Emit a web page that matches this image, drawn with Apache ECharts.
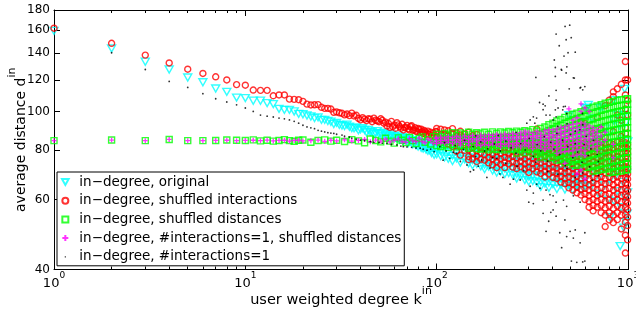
<!DOCTYPE html>
<html>
<head>
<meta charset="utf-8">
<script src="https://cdn.jsdelivr.net/npm/echarts@6/dist/echarts.min.js"></script>
<style>
  html, body { margin: 0; padding: 0; background: #fff; }
  #chart { width: 636px; height: 313px; }
</style>
</head>
<body>
<div id="chart"></div>
<script>
// axis ticks
const kMajor = [1, 10, 100, 1000];
const kMinor = [2, 3, 4, 5, 6, 7, 8, 9, 20, 30, 40, 50, 60, 70, 80, 90, 200, 300, 400, 500, 600, 700, 800, 900];
const dTicks = [40, 60, 80, 100, 120, 140, 160, 180];

const names = [
  'in−degree, original',
  'in−degree, shuffled interactions',
  'in−degree, shuffled distances',
  'in−degree, #interactions=1, shuffled distances',
  'in−degree, #interactions=1'
];

// low k: one [k, d] per degree
const originalLow = [
  [1,159.5],[2,144],[3,133.4],[4,127.5],[5,121.7],[6,118.4],[7,114.2],[8,112],[9,108.3],[10,108],[11,106.4],[12,106.4],
  [13,104.9],[14,104.3],[15,101.5],[16,100.9],[17,100.9],[18,100],[19,98.6],[20,98.4],[21,97.7],[22,97.1],[23,96.2],
  [24,96.6],[25,95.2],[26,95.2],[27,94.6],[28,94.2],[29,93],[30,93.6],[31,92.5],[32,92.2],[33,91.9],[34,92.6],[35,91.5],
  [36,90.8],[37,90.7],[38,91.2],[39,89.6],[40,90.1],[41,90.8],[42,89.8],[43,88.6],[44,89.8],[45,88.9],[46,88.8],[47,87.6],
  [48,88.1],[49,89.2],[50,87.8],[51,88.1],[52,86.6],[53,88.4],[54,87.2],[55,87.6],[56,86],[57,86.7],[58,87.4],[59,85.8],
  [60,86.8],[61,86.1],[62,85.4],[63,86.9],[64,84.8],[65,85.6],[66,86.2],[67,84.2],[68,85.8],[69,85.1],[70,84.6],[71,83.2],
  [72,85.4],[73,83.9],[74,84.6],[75,82.6],[76,84],[77,83.1],[78,82.2],[79,84.4],[80,81.6],[81,83.4],[82,82.3],[83,81],
  [84,83.6],[85,80.6],[86,82.4],[87,81.2],[88,80.2],[89,82.8],[90,79.6],[91,81.4],[92,79.9],[93,82.2],[94,78.6],[96,80.8],
  [97,77.8],[99,81.8]
];
const interactionsLow = [
  [1,162],[2,148.4],[3,138.6],[4,132.4],[5,127.7],[6,124.6],[7,122.2],[8,120],[9,116.8],[10,116.4],[11,113.2],[12,113],
  [13,113],[14,109.5],[15,110],[16,110],[17,107.4],[18,107.2],[19,107],[20,106],[21,104.3],[22,103.8],[23,103.9],[24,104],
  [25,102.4],[26,101.8],[27,101.8],[28,101.4],[29,99.5],[30,99.7],[31,99.2],[32,98.9],[33,98],[34,98.5],[35,97.6],[36,99],
  [37,97.4],[38,97.8],[39,96.1],[40,95.2],[41,96.4],[42,95.6],[43,94.8],[44,95.8],[45,95.6],[46,94.2],[47,96.2],[48,95],
  [49,94.6],[50,94.2],[51,95.8],[52,95],[53,93.4],[54,94],[55,91.9],[56,93.2],[57,91.2],[58,94.4],[59,91.5],[60,92.4],
  [61,90.7],[62,93.6],[63,92.5],[64,91.6],[65,90.7],[66,92.8],[67,89.8],[68,91],[69,91.2],[70,92.2],[71,90.4],[72,89.8],
  [73,91.6],[74,92],[75,89.6],[76,90],[77,91],[78,89.2],[79,88.9],[80,90.6],[81,90.1],[82,88.6],[83,90.2],[84,88.9],
  [85,88],[86,89.6],[87,88.9],[88,87.4],[89,88.1],[90,89.2],[91,87.6],[93,88.6],[94,86.8],[96,88.2],[97,87],[99,89]
];
const distancesLow = [
  [1,84.4],[2,84.7],[3,84.4],[4,85],[5,84.4],[6,84.4],[7,84.5],[8,84.7],[9,84.6],[10,84.5],[11,84.8],[12,84.3],[13,84.6],
  [14,84.2],[15,84.5],[16,84.9],[17,84.4],[18,84.1],[19,84.6],[20,84.7],[22,83.6],[24,84.5],[26,84.8],[28,84.2],[30,84.6],
  [33,84],[36,84.9],[39,84.3],[42,83.4],[45,85.2],[48,84.5],[51,83.8],[54,85.6],[57,84.2],[60,83.2],[63,85.8],[66,84.6],
  [69,83.5],[72,86],[75,84.4],[78,83],[81,85.5],[84,86.3],[87,83.6],[90,84.9],[93,82.8],[96,86.4],[99,84.2]
];
const singleShuffledLow = [
  [1,84.4],[2,84.7],[3,84.4],[4,85],[5,84.4],[6,84.4],[7,84.5],[8,84.6],[9,84.4],[10,84.5],[11,84.6],[12,84.4],[13,84.7],
  [14,84.3],[15,84.5],[16,84.6],[17,84.2],[18,84.5],[19,84.6],[20,84.3],[22,84.4],[24,84.7],[26,84.1],[28,84.6],[30,84.3],
  [33,84.8],[36,84.2],[39,84.5],[42,85],[45,83.9],[48,84.7],[51,84.2],[54,85.1],[57,83.8],[60,84.6],[63,85.3],[66,84],
  [69,83.6],[72,85.4],[75,84.3],[78,83.9],[81,85.6],[84,84.1],[87,83.4],[90,85.2],[93,84.5],[96,83.2],[99,85.7]
];

// high k: each row is [k, d, d, ...], the values seen in that column of the cloud
const originalHigh = [
  [100,85.6,83,80.4,78],[105,86,82.2,79.6,77.2],[110,84.8,82.6,80,76.6],[115,85.4,81.8,79.2,76],
  [121,84.6,82.4,79.8,77.4,75],[127,85.2,81.6,78.8,76.2],[133,84.4,82,79.4,77,74.4],[140,85,81.4,78.6,75.8],
  [147,84.2,81.8,79.2,76.6,74],[154,84.8,81.2,78.4,75.4,73.2],[162,84,81.6,79,76.2,73.8],[170,84.6,80.8,78.2,75.6,72.8],
  [178,83.8,81.4,78.6,76,73.4,71.6],[187,84.4,80.6,78,75.2,72.6],[196,83.6,81,78.4,75.8,73,71],
  [206,84.2,80.4,77.6,74.8,72.2,70.2],[216,83.4,80.8,78,75.4,72.8,70.6],[227,84,80.2,77.4,74.6,71.8,69.6],
  [238,83.2,80.6,77.8,75,72.4,70],[250,83.8,80,77.2,74.4,71.6,69.2],[262,83,80.4,77.6,74.8,72,69.6,67.8],
  [275,83.6,79.8,77,74.2,71.4,68.8],[289,82.8,80.2,77.4,74.6,71.8,69.2,67.2],[303,83.4,79.6,76.8,74,71.2,68.6,66.6],
  [318,82.6,80,77.2,74.4,71.6,69,66.8],[334,83.2,79.4,76.6,73.8,71,68.4,66.2],[350,82.4,79.8,77,74.2,71.4,68.8,66.4,64.6],
  [368,83,79.2,76.4,73.6,70.8,68.2,65.8],[386,82.2,79.6,76.8,74,71.2,68.6,66.2,64.2],[405,82.8,79,76.2,73.4,70.6,68,65.6],
  [425,82,79.4,76.6,73.8,71,68.4,66,63.8],[446,82.6,78.8,76,73.2,70.4,67.8,65.4],[468,81.8,79.2,76.4,73.6,70.8,68.2,65.8,63.6],
  [491,82.4,78.6,75.8,73,70.2,67.6,65.2,97.9],[515,81.6,79,76.2,73.4,70.6,68,65.6,63.4],[541,82.2,78.4,75.6,72.8,70,67.4,65,87],
  [568,81.4,78.8,76,73.2,70.4,67.8,65.4,63.4,89.8],[596,82,78.2,75.4,72.6,69.8,67.2,64.8,94.2,102],
  [610,102],[620,103.8],[625,78],[640,64.6],[650,96],[655,72.2],[670,67.5],[686,75],[700,85],[702,62],[715,102],
  [718,69.5],[735,77.6],[740,102.8],[752,65.2],[760,90.5],[770,71.8],[788,60],[805,54.2,88.7,67.4],[825,74.5],
  [840,106.8,95],[845,59.5],[862,69],[880,63],[882,98],[900,72,92],[910,45.8],[920,57.4],[930,85],[940,66.5],
  [950,51],[955,98],[960,114],[965,60.6],[970,93.5],[975,52.6],[985,70],[990,55.3],[995,62.5],[998,84]
];
const interactionsHigh = [
  [100,88.9,90.6,86.4],[105,90.2,87.6,85.2],[110,87.5,89.8,84.6],[115,89.4,87,82.8],[121,90.5,88,81.6],
  [127,88.2,86.6,79.4,83.2],[133,89.1,87.2,81.7,77.6],[140,87.8,86,83.4,79.8],[147,88.6,82.6,80.2,77,75.6],
  [154,86.9,83,81,78.4,76],[162,87.5,82.2,79.6,77.2,74.8],[170,83.2,81,78.6,75.8],[178,82.6,80.2,77.9,75.4,83.8],
  [187,83,81.3,79,76.6,74.2],[196,82.4,80.4,78,75.8,73.4],[206,83.6,81.2,79.2,76.8,74.6,72.2],
  [216,82.8,80.6,78.4,76,73.6],[227,83.2,81,79,76.6,74.4,72.2],[238,82.6,80.6,78.2,76.2,73.8],
  [250,83.4,81.4,79.2,77,74.6,72.4],[262,82.8,80.6,78.4,76.4,74,71.8],[275,83.6,81.2,79,76.8,74.8,72.6],
  [289,82.4,80.4,78.2,76,73.8,71.6],[303,83.2,81.2,79.2,77,74.6,72.4,70.2],[318,82.6,80.6,78.4,76.2,74,71.8],
  [334,83.4,81,79,76.8,74.8,72.6,70.4,90.3],[350,82.8,80.8,78.6,76.4,74.2,72,69.8],
  [368,83.4,81.2,79.2,77,74.8,72.6,70.6,68.4],[386,82.6,80.4,78.4,76.2,74,71.8,69.6],
  [405,83.2,81,79,76.8,74.6,72.4,70.4,68.2],[425,82.8,80.6,78.4,76.4,74.2,72,69.8,67.8],
  [446,83.6,81.4,79.4,77.2,75,72.8,70.6,68.6,66.4],[468,82.8,80.8,78.6,76.4,74.2,72,70,67.8,65.8],
  [491,83.4,81.2,79,77,74.8,72.6,70.4,68.4,66.2,64.2],[515,82.6,80.6,78.4,76.2,74,71.8,69.8,67.6,65.6,63.4],
  [541,83.6,81.4,79.2,77,75,72.8,70.6,68.6,66.4,64.4,62.4],
  [568,82.8,80.6,78.6,76.4,74.2,72,70,67.8,65.8,63.6,61.6,94.2],
  [596,83.4,81.2,79,77,74.8,72.6,70.4,68.4,66.2,64,62,60,93.3],
  [626,82.6,80.6,78.4,76.2,74,71.8,69.8,67.6,65.4,63.4,61.4,59.4,57.4],
  [657,83.4,81.2,79.2,77,74.8,72.6,70.6,68.4,66.2,64.2,62.2,60,58,56.2,88],
  [690,82.8,80.6,78.4,76.4,74.2,72,69.8,67.8,65.6,63.6,61.4,59.4,57.4,96.7],
  [724,83.6,81.4,79.2,77,75,72.8,70.6,68.4,66.4,64.2,62.2,60,58,55.6,90],
  [760,82.8,80.8,78.6,76.4,74.2,72,70,67.8,65.8,63.6,61.6,59.4,57.2,54.8,51.3,103.4,86],
  [798,83.4,81.2,79,77,74.8,72.6,70.4,68.4,66.2,64,62,59.8,57.8,55.6,53.3,106.7],
  [838,82.6,80.6,78.4,76.2,74,71.8,69.8,67.6,65.4,63.4,61.2,59.2,57,54.8,52.5,108.9,112,89],
  [879,83.6,81.4,79.2,77,74.8,72.8,70.6,68.4,66.4,64.2,62,60,57.8,55.6,53.4,97.9,114],
  [923,82.8,80.8,78.6,76.4,74.2,72,70,67.8,65.6,63.6,61.4,59.2,57,54.8,50.6,117,86.5,95],
  [969,83.4,81.2,79,77,74.8,72.6,70.4,68.2,66,64,61.8,59.6,57.4,55,52.6,48.8,44,133.5,110,120,88,91,101.5],
  [995,82.6,80.4,78.4,76.2,74,71.8,69.6,67.6,65.4,63.2,61,58.8,56.6,54.2,51.6,47.5,120,106.4,98]
];
const distancesHigh = [
  [100,87.6,84.8,82],[105,86.4,83.6,81.6],[110,88,85.2,82.4],[115,87.2,84.2,81.2],[121,88.4,85.6,82.6],
  [127,87,84.4,81.4],[133,88.2,85.4,82.2],[140,87.4,84.6,81.8],[147,88.6,85.8,82.8,80.8],[154,87.6,84.8,81.6],
  [162,88.4,85.6,82.4,80.6],[170,87.8,85,82,80.4],[178,88.6,85.8,82.8,80.8],[187,87.6,84.6,81.6,80],
  [196,88.8,85.8,82.6,80.6],[206,88,85,82.2,80.2],[216,88.8,86,83,80.6],[227,88.2,85.2,82.4,80],
  [238,89,86.2,83.2,80.6],[250,88.4,85.4,82.4,80.2],[262,89.2,86.4,83.4,80.6,78.6],[275,88.6,85.6,82.6,80],
  [289,89.4,86.6,83.6,80.8,78.8],[303,88.8,85.8,82.8,80.2],[318,90,87,84,81,78.6],[334,89.2,86.4,83.4,80.4,78],
  [350,90.6,87.6,84.4,81.4,78.8,76.8],
  [368,91.4,88.6,85.8,83,80.2,77.6],[386,92.6,89.6,86.8,84,81.2,78.4,76.4],[405,93.4,90.4,87.6,84.6,81.8,79,76.6],
  [425,94.6,91.6,88.6,85.6,82.8,80,77.4,75.4],[446,95.4,92.4,89.4,86.6,83.6,80.8,78,75.6],
  [468,96.6,93.4,90.4,87.4,84.6,81.6,78.8,76.2,74.4],[491,97.4,94.4,91.2,88.2,85.4,82.4,79.6,77,74.6],
  [515,98.4,95.2,92.2,89.2,86.2,83.2,80.4,77.6,75,73.4],[541,99,96,92.8,89.8,86.8,84,81,78.2,75.6,73.2],
  [568,99.8,96.6,93.6,90.6,87.6,84.6,81.8,79,76.2,73.8],[596,100.6,97.4,94.2,91.2,88.2,85.2,82.4,79.6,76.8,74.2,72.2],
  [626,101.6,98.4,95.2,92,89,86,83,80.2,77.4,74.8,72.4],[657,102.4,99,95.8,92.6,89.6,86.6,83.6,80.8,78,75.4,72.8,70.8],
  [690,103.2,99.8,96.6,93.4,90.4,87.2,84.2,81.4,78.6,75.8,73.2,71],[724,104,100.6,97.4,94.2,91,88,85,82,79.2,76.4,73.8,71.4],
  [760,104.8,101.4,98,94.8,91.6,88.6,85.6,82.6,79.8,77,74.2,71.6],
  [798,105.4,102,98.6,95.4,92.2,89,86,83,80.2,77.4,74.6,72,70.2],
  [838,106,102.6,99.2,96,92.8,89.6,86.6,83.6,80.6,77.8,75,72.4,70.4],
  [879,106.6,103.2,99.8,96.4,93.2,90,87,84,81,78.2,75.4,72.8,70.6],
  [923,107,103.6,100.2,96.8,93.6,90.4,87.4,84.4,81.4,78.6,75.8,73.2,70.8],
  [969,107.4,104,100.6,97.2,94,90.8,87.8,84.8,81.8,79,76.2,73.6,71.2],
  [995,107.6,104.2,100.8,97.4,94.2,91,88,85,82,79.2,76.4,73.8,71.4]
];
const singleShuffledHigh = [
  [100,85.6,84.2,83],[105,84.6,83.4,86.2],[110,85.8,84.4,83.2],[115,84.8,83.6,86.4],[121,86,84.6,83],
  [127,85,83.8,86.6],[133,86.2,84.8,83.4,82.4],[140,85.2,84,86.8],[147,86.4,85,83.6,82.2],[154,85.4,84.2,87],
  [162,86.6,85.2,83.8,82.4],[170,85.6,84.4,87.2,82],[178,86.8,85.4,84,82.6],[187,85.8,84.6,87.4,82.2],
  [196,87,85.6,84.2,82.8],[206,86,84.8,87.6,82.4],[216,87.2,85.8,84.4,83,81.6],[227,86.2,85,87.8,82.6],
  [238,87.4,86,84.6,83.2,81.8],[250,86.4,85.2,88,82.8,81.2],[262,87.6,86.2,84.8,83.4,82],[275,86.6,85.4,88.4,83,81.4],
  [289,87.8,86.4,85,83.6,82.2,89.2],[303,86.8,85.6,88.6,83.2,81.6],[318,88,86.6,85.2,83.8,82.4,80.6],
  [334,87,85.8,89,83.4,81.8],[350,88.2,86.8,85.4,84,82.6,80.8],[368,87.2,86,89.4,83.6,82,80.2],
  [386,88.4,87,85.6,84.2,82.8,81,90],[405,87.4,86.2,89.8,83.8,82.2,80.4],
  [425,90.4,88.6,87,85.4,83.8,82.2,80.4,78.4],[446,91.2,89.2,87.6,86,84.4,82.8,81,79],
  [468,91.6,89.6,88,86.4,84.6,83,81.2,79.2,74],[491,92.2,90.2,88.4,86.6,85,83.2,81.4,79.4,101.5],
  [515,92.8,90.6,88.8,87,85.2,83.4,81.6,79.6,77.2,95],[541,93.2,91,89.2,87.4,85.6,83.8,82,80,77.6,96.4,69.6],
  [568,93.6,91.4,89.6,87.6,85.8,84,82.2,80.2,78,104.5,100,71.2],[596,93,91,89,87.2,85.4,83.6,81.8,79.6,77.4,102,67.5],
  [626,92,90,88.2,86.4,84.6,82.8,80.8,100],[657,91,89,87.2,85.4,83.4,81.4],[690,90,88,86,84,82,79.9],
  [724,91.5,86.8,83.2],[760,88.6,84.6],[838,82.6,76.5]
];

const single = [
  [2,140.5],[3,127.5],[4,119],[5,114.9],[6,110.8],[7,107.6],[8,105.6],[9,103.9],[10,102],[11,100],[12,97.9],[13,97.3],
  [14,96.8],[15,96.2],[16,95.8],[17,95.2],[18,94.4],[19,93.4],[20,92.3],[21,91.4],[22,90.9],[23,90.5],[24,89.6],
  [25,89.2],[26,88.8],[27,88.4],[28,88.2],[29,88],[30,87.6],[32,87.2],[33,86.6],[35,86.1],[36,85.7],[38,85.2],[40,84.7],
  [42,84.4],[45,83.9],[47,83.6],[50,83.5],[52,83.2],[55,83.1],[58,82.6],[62,82.3],[65,81.8],[67,81.5],[70,81.4],
  [74,81.2],[78,80.9],[82,80.8],[85,80.3],[89,79.9],[93,80.4],[97,79.2],
  [104,81.5],[108,75.4],[110,83.5],[112,79.5],[117,76.2],[122,78.9],[125,82],[127,78.4],[133,74.8],[138,80.2],
  [140,84.5],[144,73.3],[150,70.5],[155,81.5],[156,71.2],[160,77],[160,86.8],[165,72.8],[170,83.8],[172,75.5],
  [178,79.5],[183,68.2],[185,80.5],[190,72],[196,76.5],[200,82.8],[206,76.2],[210,87],[214,69.6],[215,79.5],
  [222,68.2],[230,74],[230,84.2],[242,65.6],[245,81],[252,67.5],[260,78.5],[260,88.6],[263,72.8],[273,67.2],[275,83],
  [285,71],[290,80],[296,63.4],[296,93.4],[303,59.1],[305,85.5],[308,64.8],[308,95.2],[320,62.3],[320,58.6],[320,77],
  [320,96.9],[326,93.4],[330,121.8],[330,74.5],[333,65.6],[333,96.2],[335,82.5],[345,105.3],[347,64.1],[350,79.6],
  [360,59.8],[360,55.4],[360,101],[360,104.3],[365,86.4],[369,103.3],[373,63.4],[373,49.9],[373,97.9],[380,75],
  [380,70.6],[385,52.9],[386,109.4],[391,61.7],[391,97.9],[395,55.7],[395,83.6],[406,61.3],[406,56.5],[406,95.2],
  [410,80.4],[412,134.7],[417,122.5],[417,129],[417,100.9],[421,106.8],[421,59.1],[421,54.5],[421,113],[421,96.9],
  [421,156.6],[425,88],[430,69.5],[430,91.8],[431,102],[437,146.3],[440,49.5],[440,77.8],[448,127.6],[450,45.4],
  [450,127],[455,84.6],[456,100.9],[460,59.8],[460,102.8],[463,137.8],[468,53.3],[469,163.7],[470,103],[470,73],
  [475,151.5],[475,125],[478,57.7],[478,48.4],[479,98.8],[479,129.5],[480,71.8],[480,93.2],[485,81.5],[486,140.5],
  [493,114],[496,164.8],[498,49.9],[500,87.5],[505,153.3],[506,42],[515,76.5],[518,61.3],[518,48],[518,121.5],
  [524,121.3],[530,50.3],[530,141],[530,83],[530,68.2],[530,89.2],[540,41.7],[545,79],[560,90],[562,59.1],[562,46.7],
  [562,114.6],[566,115],[575,74.5],[578,98.8],[580,41.8],[580,113.3],[580,70],[580,92.6],[590,82.5],[595,49.5],
  [595,42],[595,115.5],[605,86.5],[620,77.5],[630,72.5],[640,80.5],[650,67],[660,84.5],[690,78],[700,69],[700,74.8]
];

const columns = (rows) => rows.flatMap(([k, ...ds]) => ds.map((d) => [k, d]));

const chart = echarts.init(document.getElementById('chart'), null, { renderer: 'canvas' });

const box = { left: 54, right: 8, top: 10, bottom: 43.5, outerBoundsMode: 'none' };
const blackLine = { color: '#000', width: 1 };
const logX = { type: 'log', logBase: 10, min: 1, max: 1000, splitLine: { show: false } };
const logY = { type: 'log', logBase: 10, min: 40, max: 180, splitLine: { show: false } };
const font = 'DejaVu Sans';

const triPath = 'path://M0,0L10,0L5,9Z';
const squarePath = 'path://M0,0L10,0L10,10L0,10Z';
const plusPath = 'path://M5,0L5,10M0,5L10,5';
const dotIcon = 'path://M0,0M10,10M4,4L6,4L6,6L4,6Z';

const hollow = (color, w) => ({ color: 'transparent', borderColor: color, borderWidth: w });

chart.setOption({
  animation: false,
  backgroundColor: '#fff',
  grid: [box, box, box, box],
  xAxis: [
    {
      ...logX, gridIndex: 0, position: 'bottom',
      axisLine: { show: true, onZero: false, lineStyle: blackLine },
      axisTick: { show: true, inside: true, length: 6, customValues: kMajor, lineStyle: blackLine },
      axisLabel: {
        customValues: kMajor, margin: 2,
        formatter: (v) => '{b|10}{e|' + Math.round(Math.log10(v)) + '}',
        rich: {
          b: { fontFamily: font, fontSize: 13, color: '#000', padding: [6, 0, 0, 0], verticalAlign: 'bottom' },
          e: { fontFamily: font, fontSize: 9, color: '#000', verticalAlign: 'top' }
        }
      },
      name: '{b|user weighted degree k}{s|in}',
      nameLocation: 'middle', nameGap: 16, nameMoveOverlap: false,
      nameTextStyle: {
        rich: {
          b: { fontFamily: font, fontSize: 14.5, color: '#000', padding: [7, 0, 0, 0], verticalAlign: 'bottom' },
          s: { fontFamily: font, fontSize: 11, color: '#000', verticalAlign: 'top' }
        }
      }
    },
    {
      ...logX, gridIndex: 1, position: 'top',
      axisLine: { show: true, onZero: false, lineStyle: blackLine },
      axisTick: { show: true, inside: true, length: 6, customValues: kMajor, lineStyle: blackLine },
      axisLabel: { show: false }
    },
    {
      ...logX, gridIndex: 2, position: 'bottom',
      axisLine: { show: false },
      axisTick: { show: true, inside: true, length: 3, customValues: kMinor, lineStyle: blackLine },
      axisLabel: { show: false }
    },
    {
      ...logX, gridIndex: 3, position: 'top',
      axisLine: { show: false },
      axisTick: { show: true, inside: true, length: 3, customValues: kMinor, lineStyle: blackLine },
      axisLabel: { show: false }
    }
  ],
  yAxis: [
    {
      ...logY, gridIndex: 0, position: 'left',
      axisLine: { show: true, onZero: false, lineStyle: blackLine },
      axisTick: { show: true, inside: true, length: 6, customValues: dTicks, lineStyle: blackLine },
      axisLabel: { customValues: dTicks, margin: 4, fontFamily: font, fontSize: 12, color: '#000' },
      name: '{b|average distance d}{s|in}',
      nameLocation: 'middle', nameGap: 26, nameMoveOverlap: false,
      nameTextStyle: {
        rich: {
          b: { fontFamily: font, fontSize: 14, color: '#000', padding: [7, 0, 0, 0], verticalAlign: 'bottom' },
          s: { fontFamily: font, fontSize: 11, color: '#000', verticalAlign: 'top' }
        }
      }
    },
    {
      ...logY, gridIndex: 1, position: 'right',
      axisLine: { show: true, onZero: false, lineStyle: blackLine },
      axisTick: { show: true, inside: true, length: 6, customValues: dTicks, lineStyle: blackLine },
      axisLabel: { show: false }
    },
    { ...logY, gridIndex: 2, show: false },
    { ...logY, gridIndex: 3, show: false }
  ],
  legend: {
    orient: 'vertical', left: 57, top: 172,
    backgroundColor: '#fff', borderColor: '#000', borderWidth: 1, borderRadius: 0,
    padding: [3, 3, 2, 4], itemGap: 4.7, itemWidth: 18, itemHeight: 6,
    selectedMode: false,
    textStyle: { fontFamily: font, fontSize: 13.5, color: '#000', lineHeight: 14 },
    data: [
      { name: names[0] },
      { name: names[1] },
      { name: names[2], icon: squarePath },
      { name: names[3] },
      { name: names[4], icon: dotIcon, itemStyle: { color: '#000', borderWidth: 0 } }
    ]
  },
  series: [
    { name: names[0], data: originalLow.concat(columns(originalHigh)), symbol: triPath, symbolSize: [8, 7], itemStyle: hollow('#00ffff', 1.4) },
    { name: names[1], data: interactionsLow.concat(columns(interactionsHigh)), symbol: 'circle', symbolSize: 6, itemStyle: hollow('#ff0000', 1.4) },
    { name: names[2], data: distancesLow.concat(columns(distancesHigh)), symbol: squarePath, symbolSize: 6, itemStyle: hollow('#00ff00', 1.4) },
    { name: names[3], data: singleShuffledLow.concat(columns(singleShuffledHigh)), symbol: plusPath, symbolSize: 5, itemStyle: hollow('#ff00ff', 1.3) },
    { name: names[4], data: single, symbol: 'circle', symbolSize: 1.8, itemStyle: { color: '#000' } }
  ].map((s) => ({ ...s, type: 'scatter', xAxisIndex: 0, yAxisIndex: 0, silent: true, emphasis: { disabled: true } }))
});
</script>
</body>
</html>
